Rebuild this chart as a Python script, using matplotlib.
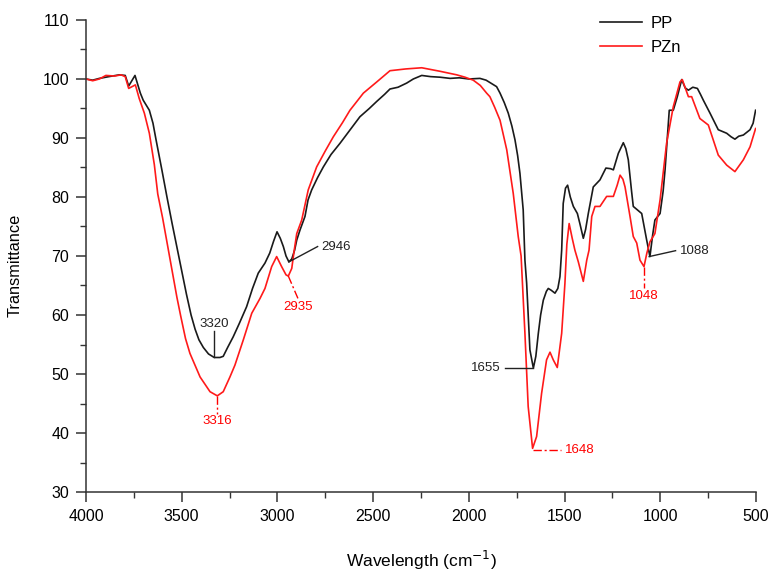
import matplotlib
matplotlib.use("Agg")
import matplotlib.pyplot as plt
from matplotlib.ticker import MultipleLocator

plt.rcParams['font.family'] = ['Liberation Sans', 'DejaVu Sans']

# ---- data ----
pp_wavenumber = [4000, 3965, 3930, 3880, 3826, 3795, 3777, 3744, 3716, 3701, 3669, 3650,
                 3634, 3603, 3577, 3550, 3525, 3500, 3475, 3451, 3430, 3410, 3387, 3360,
                 3330, 3300, 3283,
                 3260, 3231, 3200, 3161, 3130, 3100, 3065, 3040, 3020, 3002, 2985, 2969,
                 2955, 2940, 2925, 2910, 2899, 2882, 2856, 2840, 2821, 2790, 2760, 2720,
                 2673, 2620, 2569, 2520, 2481, 2440, 2412, 2370, 2325, 2290, 2246, 2200,
                 2150, 2098, 2050, 2000, 1942, 1910, 1890, 1870, 1855, 1837, 1815, 1794,
                 1775, 1759, 1745, 1733, 1716, 1707, 1698, 1690, 1681, 1663, 1650, 1637,
                 1625, 1611, 1595, 1585, 1570, 1550, 1535, 1524, 1515, 1507, 1495, 1484,
                 1470, 1454, 1433, 1420, 1402, 1390, 1376, 1350, 1315, 1295, 1284, 1260,
                 1245, 1219, 1193, 1180, 1167, 1150, 1141, 1115, 1097, 1071, 1054, 1040,
                 1028, 1001, 985, 975, 953, 932, 911, 888, 870, 853, 830, 806, 790, 775,
                 740, 697, 653, 630, 610, 590, 566, 531, 515, 502]
pp_transmittance = [100.0, 99.8, 100.1, 100.4, 100.7, 100.6, 98.8, 100.6, 97.6, 96.4, 94.7, 92.5,
                    89.7, 84.5, 80.0, 75.5, 71.5, 67.5, 63.5, 60.0, 57.6, 55.8, 54.5, 53.4,
                    52.8, 52.8, 53.0,
                    54.5, 56.3, 58.5, 61.4, 64.5, 67.1, 68.8, 70.5, 72.5, 74.1, 73.0, 71.6,
                    70.0, 69.0, 69.5, 71.0, 72.7, 74.4, 76.7, 79.5, 81.2, 83.3, 85.1, 87.2,
                    89.1, 91.4, 93.6, 95.0, 96.2, 97.4, 98.3, 98.6, 99.3, 100.0, 100.6, 100.4,
                    100.3, 100.1, 100.2, 100.0, 100.1, 99.8, 99.4, 99.0, 98.7, 97.6, 96.0, 94.2,
                    92.0, 89.7, 87.0, 84.0, 77.8, 69.3, 65.4, 60.0, 54.1, 51.0, 53.0, 56.9,
                    60.0, 62.5, 64.0, 64.5, 64.2, 63.7, 64.5, 66.5, 71.0, 78.9, 81.5, 82.0,
                    80.0, 78.4, 77.2, 75.5, 73.0, 74.5, 77.2, 81.7, 82.9, 84.2, 84.9, 84.8,
                    84.6, 87.4, 89.2, 88.2, 86.3, 81.0, 78.4, 77.7, 77.2, 72.7, 69.9, 73.5,
                    76.1, 77.2, 81.0, 84.6, 94.7, 94.7, 97.0, 99.9, 98.5, 98.1, 98.6, 98.4, 97.4, 96.4,
                    94.2, 91.4, 90.8, 90.2, 89.8, 90.3, 90.5, 91.4, 92.5, 94.7]

pzn_wavenumber = [4000, 3965, 3930, 3896, 3850, 3817, 3795, 3777, 3742, 3722, 3695, 3669,
                  3643, 3625, 3600, 3575, 3550, 3525, 3505, 3480, 3457, 3404, 3352, 3314,
                  3283, 3248, 3222,
                  3178, 3134, 3091, 3065, 3030, 3004, 2978, 2955, 2943, 2925, 2912, 2899,
                  2873, 2839, 2795, 2750, 2708, 2660, 2621, 2551, 2481, 2412, 2330, 2246,
                  2150, 2063, 2020, 1977, 1940, 1907, 1890, 1865, 1837, 1802, 1768, 1742,
                  1727, 1707, 1690, 1667, 1646, 1620, 1594, 1576, 1559, 1538, 1515, 1498,
                  1488, 1476, 1460, 1446, 1428, 1402, 1384, 1372, 1358, 1341, 1315, 1280,
                  1245, 1225, 1210, 1195, 1184, 1158, 1141, 1123, 1106, 1085, 1070, 1054,
                  1028, 1001, 967, 932, 897, 885, 853, 836, 793, 749, 697, 653, 610, 566,
                  531, 502]
pzn_transmittance = [100.0, 99.7, 100.0, 100.6, 100.5, 100.7, 100.4, 98.4, 99.0, 96.7, 94.2, 90.8,
                     85.5, 80.5, 76.5, 72.0, 67.5, 63.0, 59.8, 56.0, 53.5, 49.5, 47.0, 46.3,
                     47.0, 49.5, 51.5,
                     55.8, 60.3, 62.8, 64.5, 68.2, 69.9, 68.2, 66.8, 66.6, 67.9, 71.0, 73.8,
                     76.1, 81.2, 85.1, 87.8, 90.2, 92.6, 94.7, 97.6, 99.5, 101.4, 101.7, 101.9,
                     101.3, 100.7, 100.3, 99.8, 98.9, 97.6, 97.0, 95.2, 93.0, 88.0, 80.6, 73.3,
                     70.0, 56.9, 44.5, 37.4, 39.4, 46.7, 52.4, 53.7, 52.4, 51.1, 56.9, 65.4,
                     72.0, 75.5, 73.0, 71.0, 69.0, 65.7, 69.3, 71.0, 76.7, 78.4, 78.4, 80.1,
                     80.1, 82.0, 83.7, 83.0, 81.7, 76.7, 73.3, 72.2, 69.3, 68.2, 70.5, 72.4,
                     73.8, 79.5, 89.1, 95.3, 99.5, 99.9, 97.0, 97.0, 93.3, 92.2, 87.1, 85.4, 84.3, 86.3,
                     88.5, 91.6]

series_labels = ["PP", "PZn"]
x_ticks = [4000, 3500, 3000, 2500, 2000, 1500, 1000, 500]
y_ticks = [30, 40, 50, 60, 70, 80, 90, 100, 110]

# annotations: label, point (x, y), leader end (x, y), colour, leader style, text alignment
annotations = [
    ("3320", (3330, 52.8), (3330, 57.3), "#222222", "-", "center", "bottom"),
    ("3316", (3314, 46.3), (3314, 43.3), "red", "-.", "center", "top"),
    ("2946", (2940, 69.0), (2790, 71.6), "#222222", "-", "left", "center"),
    ("2935", (2943, 66.6), (2890, 62.6), "red", "-.", "center", "top"),
    ("1655", (1663, 51.0), (1812, 51.0), "#222222", "-", "right", "center"),
    ("1648", (1667, 37.2), (1518, 37.2), "red", "-.", "left", "center"),
    ("1088", (1058, 69.9), (920, 70.9), "#222222", "-", "left", "center"),
    ("1048", (1085, 68.2), (1085, 64.5), "red", "-.", "center", "top"),
]

# ---- figure ----
fig = plt.figure(figsize=(7.76, 5.84), dpi=100)
ax = fig.add_axes([0.1108, 0.1575, 0.8634, 0.8083])

ax.plot(pp_wavenumber, pp_transmittance, color="#1a1a1a", lw=1.2, label=series_labels[0])
ax.plot(pzn_wavenumber, pzn_transmittance, color="#ff1a1a", lw=1.2, label=series_labels[1])

for label, (px, py), (tx, ty), col, ls, ha, va in annotations:
    dash = (0, (6, 2, 1.5, 2)) if ls == "-." else "-"
    ax.plot([px, tx], [py, ty], color=col, lw=1.0, linestyle=dash)
    dx = {"left": 3, "right": -3, "center": 0}[ha]
    dy = {"bottom": 1, "top": -1, "center": 0}[va]
    ax.annotate(label, xy=(tx, ty), xytext=(dx, dy), textcoords="offset points",
                color=col, fontsize=9.5, ha=ha, va=va)

ax.set_xlim(4000, 500)
ax.set_ylim(30, 110)
ax.set_xticks(x_ticks)
ax.set_yticks(y_ticks)
ax.xaxis.set_minor_locator(MultipleLocator(250))
ax.yaxis.set_minor_locator(MultipleLocator(5))

for s in ["top", "right"]:
    ax.spines[s].set_visible(False)
for s in ["left", "bottom"]:
    ax.spines[s].set_linewidth(1.1)
    ax.spines[s].set_color("#333333")

ax.tick_params(which="major", direction="out", length=7, width=1.1, color="#333333",
               labelsize=11.5, pad=5)
ax.tick_params(which="minor", direction="out", length=4, width=1.0, color="#333333")

ax.set_xlabel("Wavelength (cm$^{-1}$)", fontsize=12.5)
ax.set_ylabel("Transmittance", fontsize=11.8)
ax.xaxis.set_label_coords(0.5, -0.121)
ax.yaxis.set_label_coords(-0.094, 0.48)

leg = ax.legend(loc="upper left", bbox_to_anchor=(0.745, 1.04), frameon=False,
                fontsize=12, handlelength=2.5, handletextpad=0.5, labelspacing=0.55)

fig.savefig("out.png", dpi=100)
